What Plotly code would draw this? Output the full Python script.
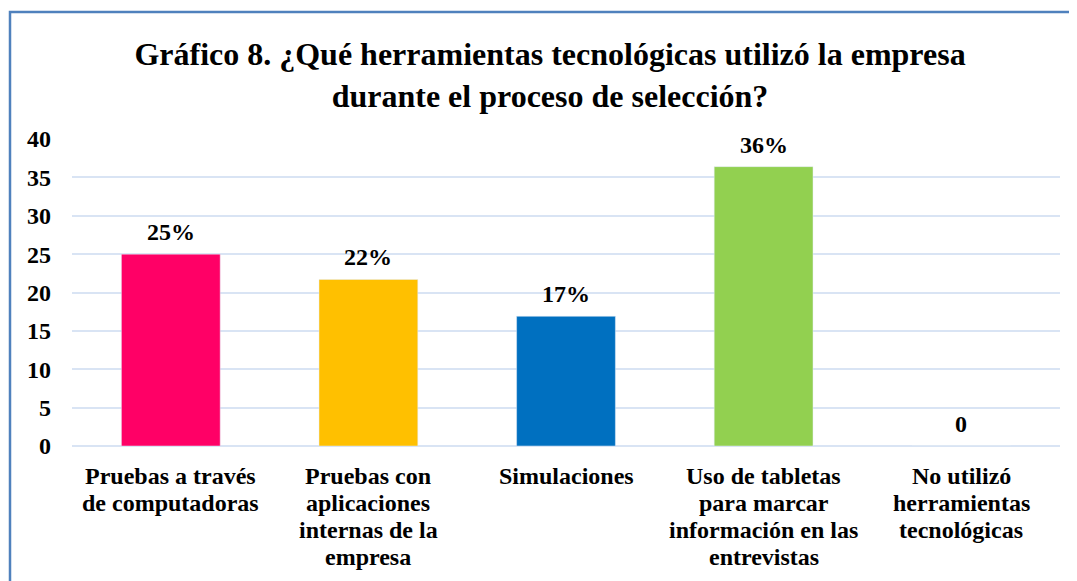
import plotly.graph_objects as go

categories = [
    "Pruebas a través<br>de computadoras",
    "Pruebas con<br>aplicaciones<br>internas de la<br>empresa",
    "Simulaciones",
    "Uso de tabletas<br>para marcar<br>información en las<br>entrevistas",
    "No utilizó<br>herramientas<br>tecnológicas",
]
values = [25, 21.7, 16.9, 36.4, 0]
labels = ["25%", "22%", "17%", "36%", "0"]
colors = ["#FF0066", "#FFC000", "#0070C0", "#92D050", "#FFFFFF"]
yticks = [0, 5, 10, 15, 20, 25, 30, 35, 40]

FONT = "Liberation Serif, Times New Roman, serif"
W, H = 1077, 581
ml, mt = 64, 131
ph, pw = 307, 988
mr = W - ml - pw
mb = H - mt - ph

fig = go.Figure(go.Bar(
    x=categories, y=values, marker_color=colors, width=0.5,
    hovertext=labels,
))

fig.update_layout(
    width=W, height=H,
    margin=dict(l=ml, r=mr, t=mt, b=mb),
    paper_bgcolor="white", plot_bgcolor="white",
    showlegend=False,
    font=dict(family=FONT, color="black"),
    title=dict(
        text="<b>Gráfico 8. ¿Qué herramientas tecnológicas utilizó la empresa<br>durante el proceso de selección?</b>",
        x=542 / W, xanchor="center", y=1 - 57 / H, yanchor="middle",
        font=dict(family=FONT, size=32, color="black"),
    ),
    xaxis=dict(showticklabels=False, showgrid=False, showline=False, ticks=""),
    yaxis=dict(
        range=[0, 40], tickvals=yticks, ticktext=["<b>%d</b>" % v for v in yticks],
        tickfont=dict(family=FONT, size=24, color="black"),
        showgrid=True, gridcolor="#D9E4F4", gridwidth=2,
        zeroline=True, zerolinecolor="#D9E4F4", zerolinewidth=2,
        showline=False, ticks="", ticklabelstandoff=20,
    ),
)

# data labels above bars
for cat, v, lab in zip(categories, values, labels):
    fig.add_annotation(
        x=cat, y=v, xref="x", yref="y", text="<b>" + lab + "</b>",
        showarrow=False, xanchor="center", yanchor="middle", yshift=22,
        font=dict(family=FONT, size=24, color="black"),
    )

# category labels, one annotation per line for Excel-like line spacing
for cat in categories:
    for i, line in enumerate(cat.split("<br>")):
        fig.add_annotation(
            x=cat, y=0, xref="x", yref="y", text="<b>" + line + "</b>",
            showarrow=False, xanchor="center", yanchor="middle",
            yshift=-(30 + 27 * i),
            font=dict(family=FONT, size=24, color="black"),
        )

fig.add_shape(type="rect", xref="paper", yref="paper",
              x0=(2 - ml) / pw, x1=(W + 30 - ml) / pw,
              y0=-(H + 30 - mt - ph) / ph, y1=(mt + ph - 4) / ph,
              line=dict(color="#4F81BD", width=2.5), fillcolor="rgba(0,0,0,0)", layer="below")

fig.write_html("out.html")
